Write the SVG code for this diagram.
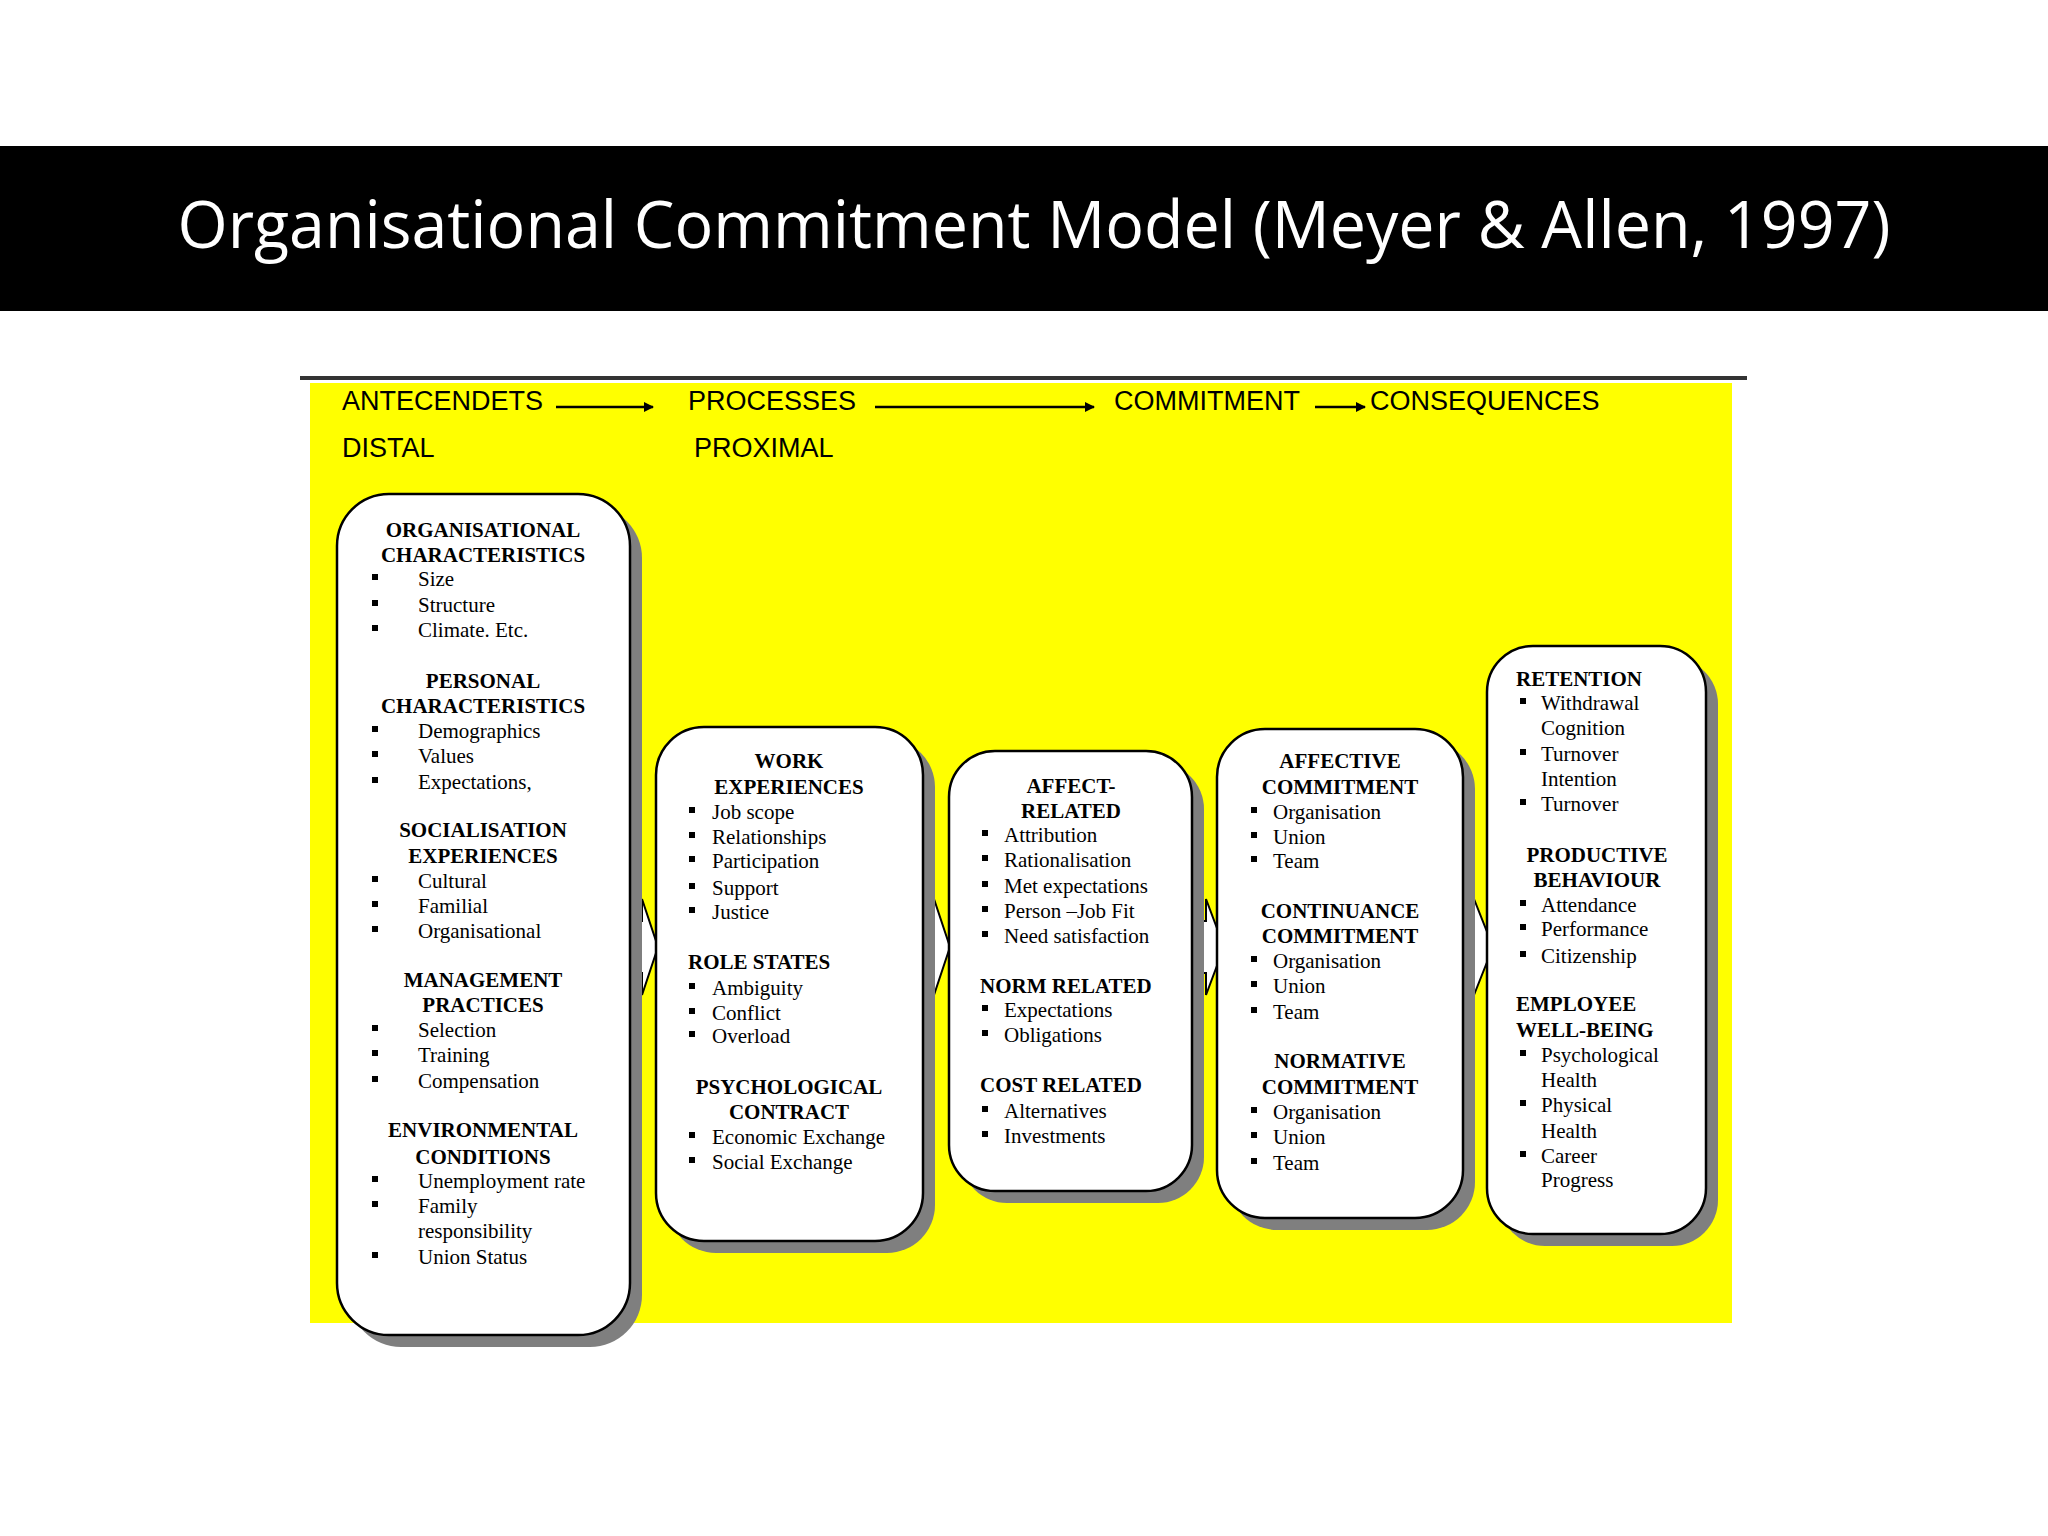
<svg xmlns="http://www.w3.org/2000/svg" width="2048" height="1536" viewBox="0 0 2048 1536">
<style>
.h{font-family:"Liberation Sans",Arial,sans-serif;font-size:27px;fill:#000}
.b{font-family:"Liberation Serif","Times New Roman",serif;font-size:21px;font-weight:bold;fill:#000}
.c{text-anchor:middle}
.t{font-family:"Liberation Serif","Times New Roman",serif;font-size:21px;fill:#000}
.box{fill:#fff;stroke:#000;stroke-width:2.5}
.sh{fill:#7f7f7f}
.ba{fill:#fff;stroke:#000;stroke-width:2}
.ln{stroke:#000;stroke-width:2.5;fill:none}
</style>
<defs>
<marker id="ah" markerWidth="10" markerHeight="10" refX="9" refY="5" orient="auto" markerUnits="userSpaceOnUse"><path d="M0,0 L10,5 L0,10 z" fill="#000"/></marker>
</defs>
<rect width="2048" height="1536" fill="#fff"/>
<rect x="0" y="146" width="2048" height="165" fill="#000"/>
<text x="1034" y="248" text-anchor="middle" font-family="'Open Sans',sans-serif" font-size="66" fill="#fff" textLength="1713" lengthAdjust="spacingAndGlyphs">Organisational Commitment Model (Meyer &amp; Allen, 1997)</text>
<rect x="310" y="383" width="1422" height="940" fill="#ffff00"/>
<rect x="300" y="376" width="1447" height="4" fill="#333"/>
<g id="headers">
<text class="h" x="342" y="410">ANTECENDETS</text>
<text class="h" x="342" y="457">DISTAL</text>
<text class="h" x="688" y="410">PROCESSES</text>
<text class="h" x="694" y="457">PROXIMAL</text>
<text class="h" x="1114" y="410">COMMITMENT</text>
<text class="h" x="1370" y="410">CONSEQUENCES</text>
</g>
<g id="connectors">
<line class="ln" x1="556" y1="407" x2="653" y2="407" marker-end="url(#ah)"/>
<line class="ln" x1="875" y1="407" x2="1094" y2="407" marker-end="url(#ah)"/>
<line class="ln" x1="1315" y1="407" x2="1365" y2="407" marker-end="url(#ah)"/>
<polygon class="ba" points="628,921 642,921 642,899 658,947 642,995 642,973 628,973"/>
<polygon class="ba" points="922,921 934,921 934,899 950,947 934,995 934,973 922,973"/>
<polygon class="ba" points="1192,921 1206,921 1206,899 1224,947 1206,995 1206,973 1192,973"/>
<polygon class="ba" points="1462,921 1474,921 1474,899 1493,947 1474,995 1474,973 1462,973"/>
</g>
<g id="antecedents">
<rect class="sh" x="349" y="506" width="293" height="841" rx="52"/>
<rect class="box" x="337" y="494" width="293" height="841" rx="52"/>
<g class="b c"><text x="483" y="537">ORGANISATIONAL</text><text x="483" y="562">CHARACTERISTICS</text>
<text x="483" y="688">PERSONAL</text><text x="483" y="713">CHARACTERISTICS</text>
<text x="483" y="837">SOCIALISATION</text><text x="483" y="863">EXPERIENCES</text>
<text x="483" y="987">MANAGEMENT</text><text x="483" y="1012">PRACTICES</text>
<text x="483" y="1137">ENVIRONMENTAL</text><text x="483" y="1164">CONDITIONS</text></g>
<g class="t"><text x="418" y="586">Size</text><text x="418" y="612">Structure</text><text x="418" y="637">Climate. Etc.</text>
<text x="418" y="738">Demographics</text><text x="418" y="763">Values</text><text x="418" y="789">Expectations,</text>
<text x="418" y="888">Cultural</text><text x="418" y="913">Familial</text><text x="418" y="938">Organisational</text>
<text x="418" y="1037">Selection</text><text x="418" y="1062">Training</text><text x="418" y="1088">Compensation</text>
<text x="418" y="1188">Unemployment rate</text><text x="418" y="1213">Family</text><text x="418" y="1238">responsibility</text><text x="418" y="1264">Union Status</text></g>
<g fill="#000"><rect x="372" y="574" width="6" height="6"/><rect x="372" y="600" width="6" height="6"/><rect x="372" y="625" width="6" height="6"/>
<rect x="372" y="726" width="6" height="6"/><rect x="372" y="751" width="6" height="6"/><rect x="372" y="777" width="6" height="6"/>
<rect x="372" y="876" width="6" height="6"/><rect x="372" y="901" width="6" height="6"/><rect x="372" y="926" width="6" height="6"/>
<rect x="372" y="1025" width="6" height="6"/><rect x="372" y="1050" width="6" height="6"/><rect x="372" y="1076" width="6" height="6"/>
<rect x="372" y="1176" width="6" height="6"/><rect x="372" y="1201" width="6" height="6"/><rect x="372" y="1252" width="6" height="6"/></g>
</g>
<g id="processes-work">
<rect class="sh" x="668" y="739" width="267" height="514" rx="48"/>
<rect class="box" x="656" y="727" width="267" height="514" rx="48"/>
<g class="b"><text class="c" x="789" y="768">WORK</text><text class="c" x="789" y="794">EXPERIENCES</text>
<text x="688" y="969">ROLE STATES</text>
<text class="c" x="789" y="1094">PSYCHOLOGICAL</text><text class="c" x="789" y="1119">CONTRACT</text></g>
<g class="t"><text x="712" y="819">Job scope</text><text x="712" y="844">Relationships</text><text x="712" y="868">Participation</text><text x="712" y="895">Support</text><text x="712" y="919">Justice</text>
<text x="712" y="995">Ambiguity</text><text x="712" y="1020">Conflict</text><text x="712" y="1043">Overload</text>
<text x="712" y="1144">Economic Exchange</text><text x="712" y="1169">Social Exchange</text></g>
<g fill="#000"><rect x="689" y="807" width="6" height="6"/><rect x="689" y="832" width="6" height="6"/><rect x="689" y="856" width="6" height="6"/><rect x="689" y="883" width="6" height="6"/><rect x="689" y="907" width="6" height="6"/>
<rect x="689" y="983" width="6" height="6"/><rect x="689" y="1008" width="6" height="6"/><rect x="689" y="1031" width="6" height="6"/>
<rect x="689" y="1132" width="6" height="6"/><rect x="689" y="1157" width="6" height="6"/></g>
</g>
<g id="processes-related">
<rect class="sh" x="961" y="763" width="243" height="440" rx="46"/>
<rect class="box" x="949" y="751" width="243" height="440" rx="46"/>
<g class="b"><text class="c" x="1071" y="793">AFFECT-</text><text class="c" x="1071" y="818">RELATED</text>
<text x="980" y="993">NORM RELATED</text><text x="980" y="1092">COST RELATED</text></g>
<g class="t"><text x="1004" y="842">Attribution</text><text x="1004" y="867">Rationalisation</text><text x="1004" y="893">Met expectations</text><text x="1004" y="918">Person –Job Fit</text><text x="1004" y="943">Need satisfaction</text>
<text x="1004" y="1017">Expectations</text><text x="1004" y="1042">Obligations</text>
<text x="1004" y="1118">Alternatives</text><text x="1004" y="1143">Investments</text></g>
<g fill="#000"><rect x="982" y="830" width="6" height="6"/><rect x="982" y="855" width="6" height="6"/><rect x="982" y="881" width="6" height="6"/><rect x="982" y="906" width="6" height="6"/><rect x="982" y="931" width="6" height="6"/>
<rect x="982" y="1005" width="6" height="6"/><rect x="982" y="1030" width="6" height="6"/>
<rect x="982" y="1106" width="6" height="6"/><rect x="982" y="1131" width="6" height="6"/></g>
</g>
<g id="commitment">
<rect class="sh" x="1229" y="741" width="246" height="489" rx="48"/>
<rect class="box" x="1217" y="729" width="246" height="489" rx="48"/>
<g class="b c"><text x="1340" y="768">AFFECTIVE</text><text x="1340" y="794">COMMITMENT</text>
<text x="1340" y="918">CONTINUANCE</text><text x="1340" y="943">COMMITMENT</text>
<text x="1340" y="1068">NORMATIVE</text><text x="1340" y="1094">COMMITMENT</text></g>
<g class="t"><text x="1273" y="819">Organisation</text><text x="1273" y="844">Union</text><text x="1273" y="868">Team</text>
<text x="1273" y="968">Organisation</text><text x="1273" y="993">Union</text><text x="1273" y="1019">Team</text>
<text x="1273" y="1119">Organisation</text><text x="1273" y="1144">Union</text><text x="1273" y="1170">Team</text></g>
<g fill="#000"><rect x="1251" y="807" width="6" height="6"/><rect x="1251" y="832" width="6" height="6"/><rect x="1251" y="856" width="6" height="6"/>
<rect x="1251" y="956" width="6" height="6"/><rect x="1251" y="981" width="6" height="6"/><rect x="1251" y="1007" width="6" height="6"/>
<rect x="1251" y="1107" width="6" height="6"/><rect x="1251" y="1132" width="6" height="6"/><rect x="1251" y="1158" width="6" height="6"/></g>
</g>
<g id="consequences">
<rect class="sh" x="1499" y="658" width="219" height="588" rx="46"/>
<rect class="box" x="1487" y="646" width="219" height="588" rx="46"/>
<g class="b"><text x="1516" y="686">RETENTION</text>
<text class="c" x="1597" y="862">PRODUCTIVE</text><text class="c" x="1597" y="887">BEHAVIOUR</text>
<text x="1516" y="1011">EMPLOYEE</text><text x="1516" y="1037">WELL-BEING</text></g>
<g class="t"><text x="1541" y="710">Withdrawal</text><text x="1541" y="735">Cognition</text><text x="1541" y="761">Turnover</text><text x="1541" y="786">Intention</text><text x="1541" y="811">Turnover</text>
<text x="1541" y="912">Attendance</text><text x="1541" y="936">Performance</text><text x="1541" y="963">Citizenship</text>
<text x="1541" y="1062">Psychological</text><text x="1541" y="1087">Health</text><text x="1541" y="1112">Physical</text><text x="1541" y="1138">Health</text><text x="1541" y="1163">Career</text><text x="1541" y="1187">Progress</text></g>
<g fill="#000"><rect x="1520" y="698" width="6" height="6"/><rect x="1520" y="749" width="6" height="6"/><rect x="1520" y="799" width="6" height="6"/>
<rect x="1520" y="900" width="6" height="6"/><rect x="1520" y="924" width="6" height="6"/><rect x="1520" y="951" width="6" height="6"/>
<rect x="1520" y="1050" width="6" height="6"/><rect x="1520" y="1100" width="6" height="6"/><rect x="1520" y="1151" width="6" height="6"/></g>
</g>
</svg>
